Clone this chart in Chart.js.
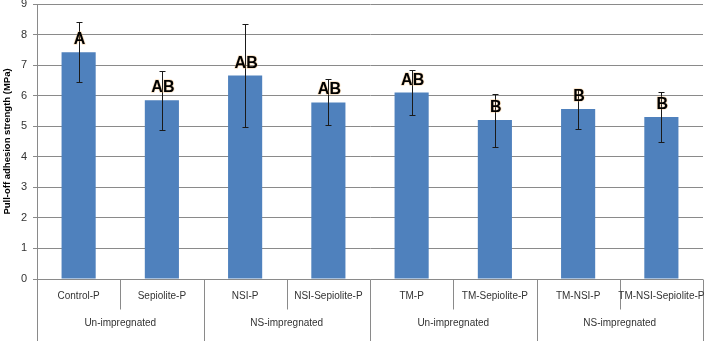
<!DOCTYPE html>
<html>
<head>
<meta charset="utf-8">
<script src="https://cdn.jsdelivr.net/npm/chart.js@4.4.1/dist/chart.umd.min.js"></script>
<style>
  html, body { margin: 0; padding: 0; background: #fff; }
  #wrap { width: 707px; height: 341px; }
</style>
</head>
<body>
<div id="wrap"><canvas id="adhesionChart"></canvas></div>
<script>
const samples = ["Control-P", "Sepiolite-P", "NSI-P", "NSI-Sepiolite-P", "TM-P", "TM-Sepiolite-P", "TM-NSI-P", "TM-NSI-Sepiolite-P"];
const groups = ["Un-impregnated", "NS-impregnated", "Un-impregnated", "NS-impregnated"];
const strength = [7.42, 5.85, 6.66, 5.78, 6.10, 5.20, 5.56, 5.30];
const errors = [0.98, 0.97, 1.67, 0.75, 0.73, 0.87, 0.66, 0.82];
const letters = ["A", "AB", "AB", "AB", "AB", "B", "B", "B"];
const yMin = 0;
const yMax = 9;

const axisGray = '#8a8a8a';
const labelFont = '10px "Liberation Sans", Arial, sans-serif';

// error bars + significance letters
const markPlugin = {
  id: 'marks',
  afterDatasetsDraw(chart) {
    const ctx = chart.ctx;
    const x = chart.scales.x;
    const y = chart.scales.y;
    ctx.save();
    ctx.strokeStyle = '#1a1a1a';
    ctx.lineWidth = 1;
    strength.forEach((v, i) => {
      const px = Math.round(x.getPixelForValue(i)) + 0.5;
      const top = Math.round(y.getPixelForValue(v + errors[i])) + 0.5;
      const bot = Math.round(y.getPixelForValue(v - errors[i])) + 0.5;
      ctx.beginPath();
      ctx.moveTo(px, top); ctx.lineTo(px, bot);
      ctx.moveTo(px - 3, top); ctx.lineTo(px + 3, top);
      ctx.moveTo(px - 3, bot); ctx.lineTo(px + 3, bot);
      ctx.stroke();
    });
    ctx.font = 'bold 16px "Liberation Sans", Arial, sans-serif';
    ctx.textAlign = 'center';
    ctx.textBaseline = 'alphabetic';
    ctx.lineJoin = 'round';
    letters.forEach((t, i) => {
      const px = x.getPixelForValue(i) + 1;
      const py = y.getPixelForValue(strength[i]) - 8;
      ctx.strokeStyle = 'rgba(240,170,80,0.35)';
      ctx.lineWidth = 1.5;
      ctx.strokeText(t, px, py);
      ctx.fillStyle = '#000';
      ctx.fillText(t, px, py);
    });
    ctx.restore();
  },
  afterDraw(chart) {
    // two level category axis under the plot
    const ctx = chart.ctx;
    const x = chart.scales.x;
    const y = chart.scales.y;
    const base = Math.round(y.getPixelForValue(yMin)) + 0.5;
    const h = chart.height;
    ctx.save();
    ctx.strokeStyle = axisGray;
    ctx.lineWidth = 1;
    for (let i = 0; i <= samples.length; i++) {
      const bx = Math.round(x.getPixelForValue(i - 0.5)) + 0.5;
      ctx.beginPath();
      ctx.moveTo(bx, base);
      ctx.lineTo(bx, i % 2 === 0 ? h : base + 30);
      ctx.stroke();
    }
    ctx.fillStyle = '#333';
    ctx.font = labelFont;
    ctx.textAlign = 'center';
    ctx.textBaseline = 'middle';
    samples.forEach((s, i) => {
      ctx.fillText(s, x.getPixelForValue(i), base + 17);
    });
    groups.forEach((g, i) => {
      ctx.fillText(g, x.getPixelForValue(i * 2 + 0.5), base + 44);
    });
    ctx.restore();
  }
};

new Chart(document.getElementById('adhesionChart'), {
  type: 'bar',
  data: {
    labels: samples,
    datasets: [{
      data: strength,
      backgroundColor: '#4f81bd',
      borderWidth: 0,
      barPercentage: 0.41,
      categoryPercentage: 1
    }]
  },
  options: {
    responsive: true,
    maintainAspectRatio: false,
    animation: false,
    layout: {
      padding: { top: 4, right: 4, bottom: 62, left: 0 }
    },
    plugins: {
      legend: { display: false },
      tooltip: { enabled: false }
    },
    scales: {
      x: {
        ticks: { display: false },
        grid: { display: false },
        border: { display: false },
        afterFit(scale) {
          scale.height = 0;
        }
      },
      y: {
        min: yMin,
        max: yMax,
        ticks: {
          stepSize: 1,
          color: '#333',
          padding: 6,
          font: { family: '"Liberation Sans", Arial, sans-serif', size: 11 }
        },
        grid: {
          color: axisGray,
          tickLength: 4
        },
        border: { color: axisGray },
        title: {
          display: true,
          text: 'Pull-off adhesion strength (MPa)',
          color: '#000',
          padding: { top: 2, bottom: 0 },
          font: { family: '"Liberation Sans", Arial, sans-serif', size: 9.5, weight: 'bold' }
        },
        afterFit(scale) {
          scale.width = 37;
          scale.paddingTop = 0;
          scale.paddingBottom = 0;
        }
      }
    }
  },
  plugins: [markPlugin]
});
</script>
</body>
</html>
